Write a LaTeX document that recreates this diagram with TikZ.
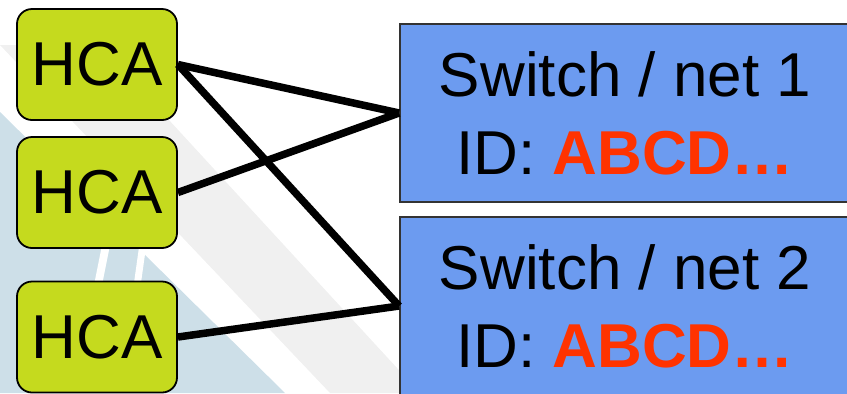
\documentclass[tikz,border=0pt]{standalone}
\usepackage{fontspec}
\setmainfont{Liberation Sans}
\usepackage{tikz}
\usetikzlibrary{positioning}
\definecolor{hcagreen}{RGB}{197,218,30}
\definecolor{netblue}{RGB}{108,155,240}
\definecolor{idred}{RGB}{255,51,0}
\definecolor{bgblue}{RGB}{205,223,232}
\definecolor{bggray}{RGB}{240,240,240}

\begin{document}
\begin{tikzpicture}[x=1bp,y=-1bp,
                    font=\fontsize{62bp}{78bp}\selectfont]
\tikzstyle{hca}=[draw=black,fill=hcagreen,rounded corners=15bp,line width=1.8bp,
                 minimum width=160bp,minimum height=111bp,inner sep=0pt]
\tikzstyle{netbox}=[draw=black!80,fill=netblue,line width=1.8bp,align=center,
                    minimum width=450bp,minimum height=178bp,inner sep=0pt]
\tikzstyle{link}=[draw=black,line width=7.5bp]
\useasboundingbox (0,0) rectangle (847,393);
\clip (0,0) rectangle (847,393);
% slide background
\fill[bggray] (0,45) -- (100,45) -- (420,393) -- (330,393) -- cycle;
\fill[bgblue] (0,112) -- (285,393) -- (0,393) -- cycle;
\fill[white] (103,240) -- (111,240) -- (101,290) -- (93,290) -- cycle;
\fill[white] (140,240) -- (147,240) -- (140,290) -- (133,290) -- cycle;

\node[hca] (h1) at (97,64.5) {HCA};
\node[hca] (h2) at (97,192.5) {HCA};
\node[hca] (h3) at (97,337) {HCA};
\node[netbox] (s1) at (625,113) {Switch / net 1\\ID: \textbf{\color{idred}ABCD…}};
\node[netbox] (s2) at (625,306) {Switch / net 2\\ID: \textbf{\color{idred}ABCD…}};
\draw[link] (h1.east) -- (s1.west);
\draw[link] (h1.east) -- (s2.west);
\draw[link] (h2.east) -- (s1.west);
\draw[link] (h3.east) -- (s2.west);

\end{tikzpicture}
\end{document}
